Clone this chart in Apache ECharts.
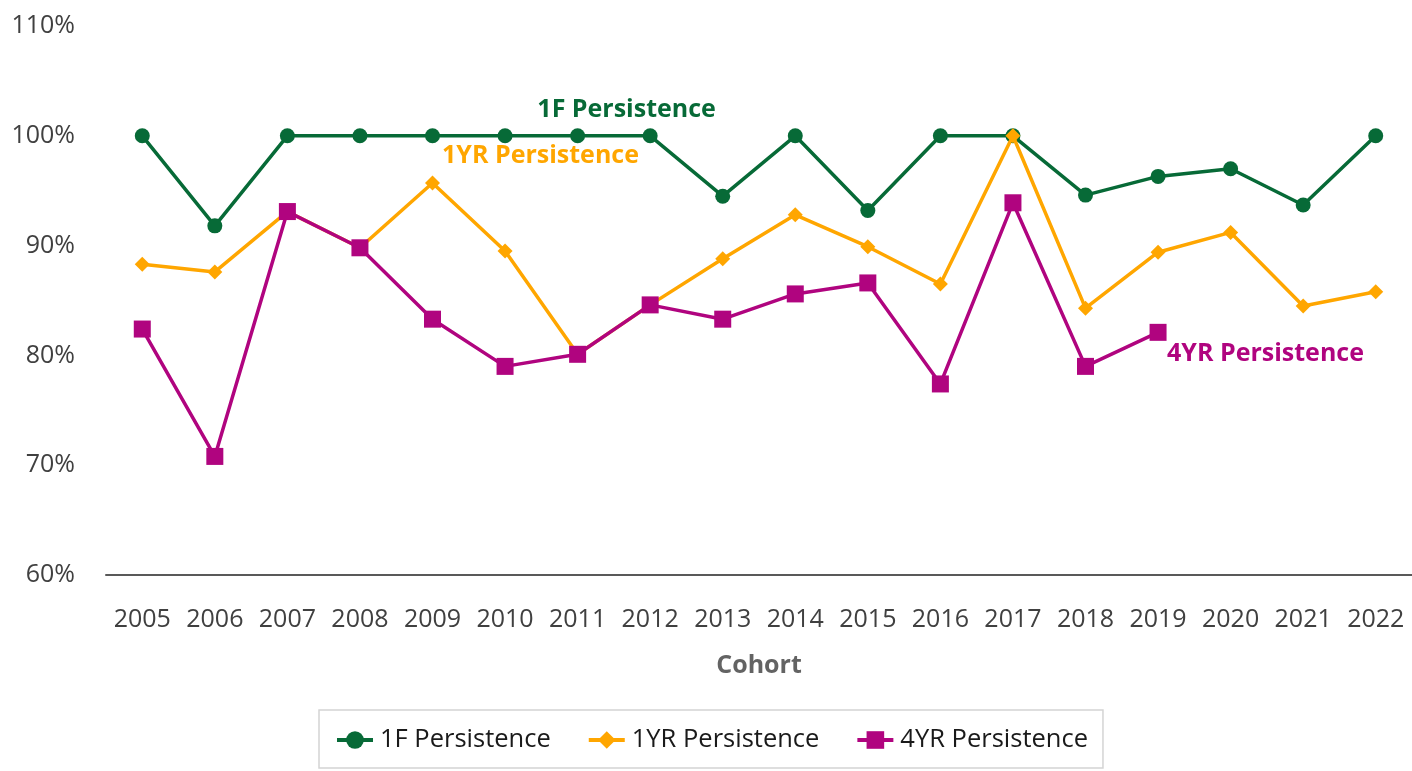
<!DOCTYPE html>
<html>
<head>
<meta charset="utf-8">
<script src="https://cdn.jsdelivr.net/npm/echarts@6/dist/echarts.min.js"></script>
<style>
html,body{margin:0;padding:0;background:#fff;}
#chart{width:1412px;height:771px;}
</style>
</head>
<body>
<div id="chart"></div>
<script>
const categories = ['2005','2006','2007','2008','2009','2010','2011','2012','2013','2014','2015','2016','2017','2018','2019','2020','2021','2022'];
const seriesNames = ['1F Persistence','1YR Persistence','4YR Persistence'];
const persist1F  = [100, 91.8, 100, 100, 100, 100, 100, 100, 94.5, 100, 93.2, 100, 100, 94.6, 96.3, 97.0, 93.7, 100];
const persist1YR = [88.3, 87.6, 93.1, 89.8, 95.7, 89.5, 80.1, 84.6, 88.8, 92.8, 89.9, 86.5, 100, 84.3, 89.4, 91.2, 84.5, 85.8];
const persist4YR = [82.4, 70.8, 93.1, 89.8, 83.3, 79.0, 80.1, 84.6, 83.3, 85.6, 86.6, 77.4, 93.9, 79.0, 82.1, null, null, null];
const yTicks = {min: 60, max: 110, interval: 10};

const colors = ['#076a37', '#ffa600', '#b0047f'];
const font = "'Open Sans', 'Noto Sans', sans-serif";

function withLabel(arr, idx, text, color, offset, align) {
  return arr.map((v, i) => {
    if (i !== idx) return v;
    return {
      value: v,
      label: {
        show: true, formatter: text, position: 'inside', offset: offset,
        align: align || 'center', verticalAlign: 'middle',
        color: color, fontFamily: font, fontWeight: 'bold', fontSize: 25
      }
    };
  });
}

const chart = echarts.init(document.getElementById('chart'), null, {renderer: 'canvas'});
chart.setOption({
  animation: false,
  backgroundColor: '#ffffff',
  color: colors,
  grid: {left: 106, width: 1307, top: 26, bottom: 196, containLabel: false},
  legend: {
    data: seriesNames,
    left: 319, top: 710,
    padding: [17, 15, 15, 16],
    itemGap: 36,
    itemWidth: 36, itemHeight: 22,
    lineStyle: {width: 4},
    borderColor: '#d4d4d4', borderWidth: 1.5,
    textStyle: {fontFamily: font, fontSize: 25.5, color: '#1a1a1a', padding: [0, 0, 0, 2]}
  },
  xAxis: {
    type: 'category',
    data: categories,
    boundaryGap: true,
    name: 'Cohort',
    nameLocation: 'middle',
    nameGap: 78,
    nameTextStyle: {fontFamily: font, fontSize: 25, fontWeight: 'bold', color: '#636363'},
    axisLine: {lineStyle: {color: '#595959', width: 2}},
    axisTick: {show: false},
    axisLabel: {fontFamily: font, fontSize: 25, color: '#404040', margin: 32, interval: 0}
  },
  yAxis: {
    type: 'value',
    min: yTicks.min, max: yTicks.max, interval: yTicks.interval,
    axisLine: {show: false},
    axisTick: {show: false},
    splitLine: {show: false},
    axisLabel: {fontFamily: font, fontSize: 25, color: '#404040', margin: 31, formatter: '{value}%'}
  },
  series: [
    {
      name: seriesNames[0], type: 'line',
      data: withLabel(persist1F, 6, '1F Persistence', colors[0], [49, -26]),
      symbol: 'circle', symbolSize: 15,
      lineStyle: {width: 3.5, color: colors[0]},
      itemStyle: {color: colors[0]},
      z: 3
    },
    {
      name: seriesNames[1], type: 'line',
      data: withLabel(persist1YR, 4, '1YR Persistence', colors[1], [108, -27]),
      symbol: 'diamond', symbolSize: 15,
      lineStyle: {width: 3.5, color: colors[1]},
      itemStyle: {color: colors[1]},
      z: 4
    },
    {
      name: seriesNames[2], type: 'line',
      data: withLabel(persist4YR, 14, '4YR Persistence', colors[2], [9, 22], 'left'),
      symbol: 'rect', symbolSize: 17,
      lineStyle: {width: 3.5, color: colors[2]},
      itemStyle: {color: colors[2]},
      z: 5
    }
  ]
});
</script>
</body>
</html>
